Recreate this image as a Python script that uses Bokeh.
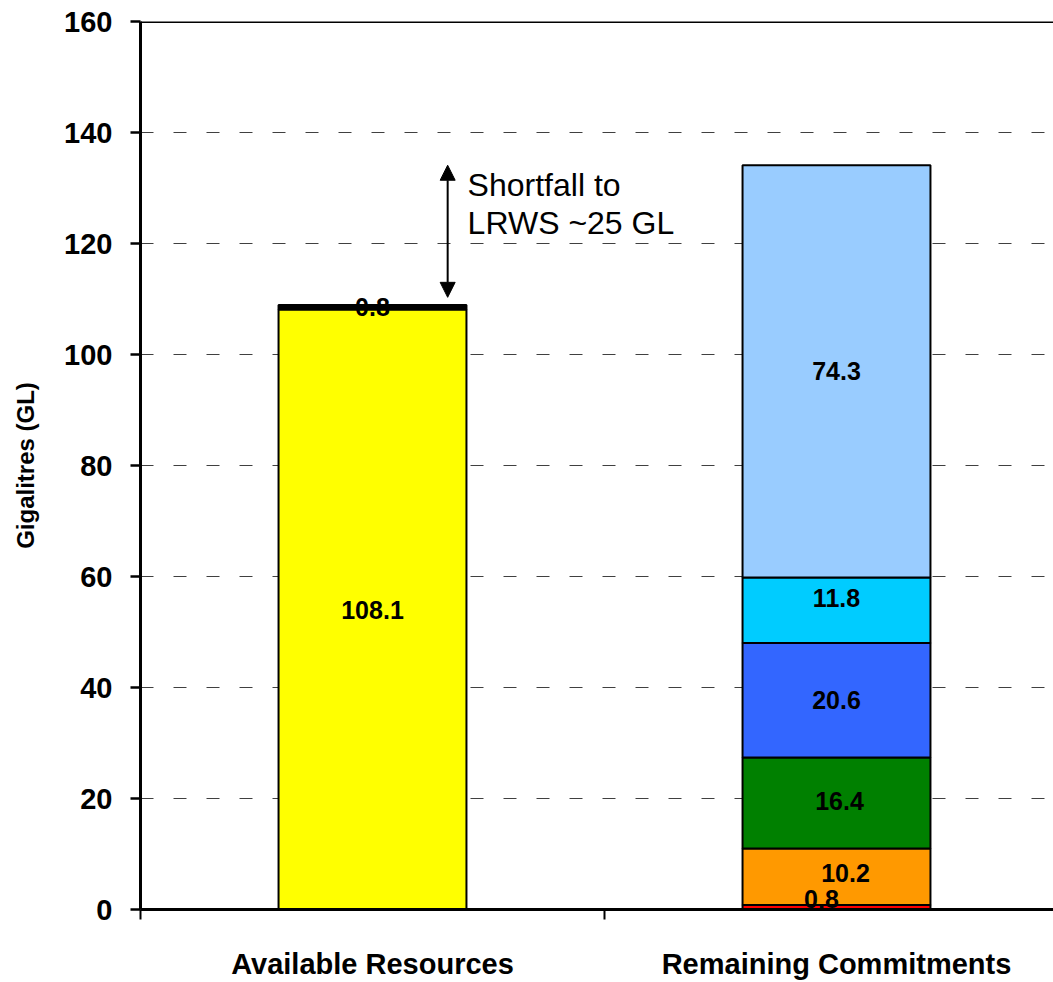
import numpy as np
from bokeh.plotting import figure
from bokeh.models import (Range1d, FixedTicker, CustomJSTickFormatter, Span, Arrow,
                          NormalHead, Label, ColumnDataSource)
from bokeh.core.properties import value
from bokeh.embed import file_html
from bokeh.resources import INLINE

# ---- data ----
categories = ["Available Resources", "Remaining Commitments"]
available_values = [108.1, 0.8]
commitment_values = [0.8, 10.2, 16.4, 20.6, 11.8, 74.3]
y_ticks = [0, 20, 40, 60, 80, 100, 120, 140, 160]
annotation_lines = ["Shortfall to", "LRWS ~25 GL"]

# ---- styles ----
available_colors = ["#FFFF00", "#000000"]
commitment_colors = ["#FF0000", "#FF9900", "#008000", "#3366FF", "#00CCFF", "#99CCFF"]
available_label_dx = [0, 0]
available_label_dy = [0, 0]
commitment_label_dx = [-15, 9, 3, 0, 0, 0]
commitment_label_dy = [-8, -4, -2, 0, -12, 0]   # screen px, negative = up

FONT_B = "Liberation Sans"
FONT_R = "Liberation Sans"

W, H = 1053, 982
LEFT, TOP, BOTTOM = 140, 21, 72
CAT_PX = 464.0
x_end = (W - LEFT) / CAT_PX

p = figure(width=W, height=H, x_range=Range1d(0, x_end), y_range=Range1d(0, 160),
           output_backend="svg", toolbar_location=None,
           min_border_left=LEFT, min_border_top=TOP, min_border_right=0, min_border_bottom=BOTTOM)
p.outline_line_color = None
p.background_fill_color = "white"
p.border_fill_color = "white"

# build stacked segments
xs, bottoms, tops, colors, labels, dxs, dys = [], [], [], [], [], [], []
for ci, (vals, cols, ldx, ldy) in enumerate([
        (available_values, available_colors, available_label_dx, available_label_dy),
        (commitment_values, commitment_colors, commitment_label_dx, commitment_label_dy)]):
    cum = np.concatenate([[0.0], np.cumsum(vals)])
    for k, v in enumerate(vals):
        xs.append(ci + 0.5)
        bottoms.append(cum[k])
        tops.append(cum[k + 1])
        colors.append(cols[k])
        labels.append(f"{v:.1f}")
        dxs.append(ldx[k])
        dys.append(ldy[k])

src = ColumnDataSource(dict(x=xs, bottom=bottoms, top=tops, color=colors, label=labels,
                            ly=[(b + t) / 2 for b, t in zip(bottoms, tops)], dx=dxs, dy=dys))

p.vbar(x="x", bottom="bottom", top="top", width=0.405, fill_color="color",
       line_color="black", line_width=2, source=src)
p.text(x="x", y="ly", text="label", x_offset="dx", y_offset="dy", source=src,
       text_font=value(FONT_B), text_font_style="bold", text_font_size="25px",
       text_align="center", text_baseline="middle", text_color="black")

# axes
p.yaxis.ticker = FixedTicker(ticks=y_ticks)
p.yaxis.axis_line_width = 3
p.yaxis.major_tick_line_width = 2.5
p.yaxis.major_tick_out = 10
p.yaxis.major_tick_in = 0
p.yaxis.minor_tick_line_color = None
p.yaxis.major_label_standoff = 18
p.yaxis.major_label_text_font = FONT_B
p.yaxis.major_label_text_font_style = "bold"
p.yaxis.major_label_text_font_size = "29px"
p.yaxis.major_label_text_color = "black"
p.yaxis.axis_label = "Gigalitres (GL)"
p.yaxis.axis_label_text_font = FONT_B
p.yaxis.axis_label_text_font_style = "bold"
p.yaxis.axis_label_text_font_size = "24px"
p.yaxis.axis_label_text_color = "black"
p.yaxis.axis_label_standoff = 22

p.xaxis.ticker = FixedTicker(ticks=[0.5, 1.5], minor_ticks=[0, 1, 2])
p.xaxis.formatter = CustomJSTickFormatter(args=dict(cats=categories),
                                          code="return cats[Math.floor(tick)];")
p.xaxis.axis_line_width = 3
p.xaxis.major_tick_out = 0
p.xaxis.major_tick_in = 0
p.xaxis.major_tick_line_color = None
p.xaxis.minor_tick_out = 10
p.xaxis.minor_tick_in = 0
p.xaxis.minor_tick_line_width = 2
p.xaxis.minor_tick_line_color = "black"
p.xaxis.major_label_standoff = 28
p.xaxis.major_label_text_font = FONT_B
p.xaxis.major_label_text_font_style = "bold"
p.xaxis.major_label_text_font_size = "29px"
p.xaxis.major_label_text_color = "black"

# grid
p.xgrid.visible = False
p.ygrid.ticker = FixedTicker(ticks=y_ticks[1:-1])
p.ygrid.grid_line_color = "#404040"
p.ygrid.grid_line_width = 1
p.ygrid.grid_line_dash = "13 20"

# top border line
p.add_layout(Span(location=y_ticks[-1], dimension="width", line_color="black", line_width=3))

# shortfall arrow and annotation
avail_total = float(np.sum(available_values))
commit_total = float(np.sum(commitment_values))
ARROW_X = 0.662
p.add_layout(Arrow(x_start=ARROW_X, y_start=avail_total + 1.4, x_end=ARROW_X, y_end=commit_total,
                   line_width=2, line_color="black",
                   start=NormalHead(size=15, fill_color="black", line_color="black", line_width=1),
                   end=NormalHead(size=15, fill_color="black", line_color="black", line_width=1)))
for i, t in enumerate(annotation_lines):
    p.add_layout(Label(x=0.705, y=commit_total, y_offset=-20 - 38 * i, text=t,
                       text_font=FONT_R, text_font_size="32px", text_color="black",
                       text_align="left", text_baseline="middle"))

open("out.html", "w").write(file_html(p, INLINE))
